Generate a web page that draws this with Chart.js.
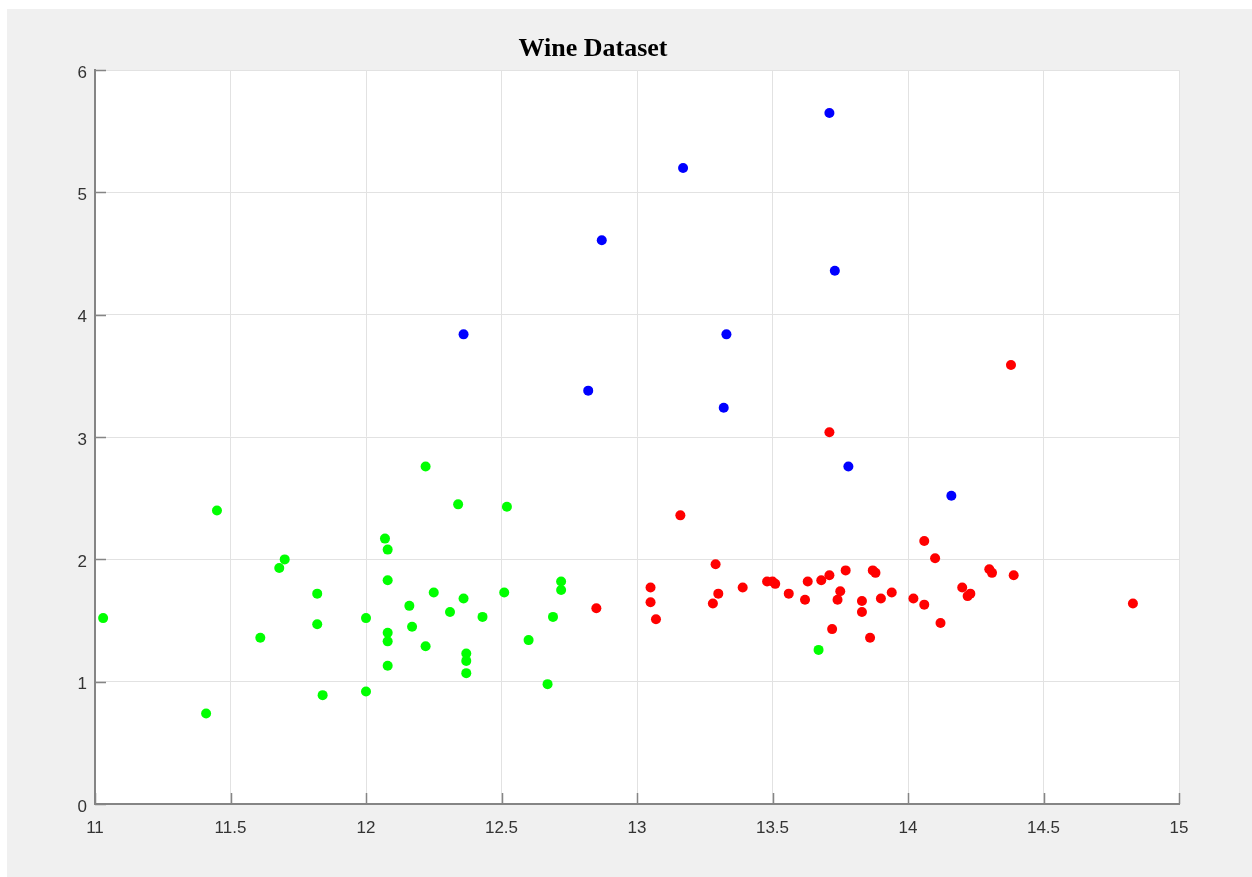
<!DOCTYPE html>
<html>
<head>
<meta charset="utf-8">
<title>Wine Dataset</title>
<script src="https://cdn.jsdelivr.net/npm/chart.js@4.4.1/dist/chart.umd.min.js"></script>
<style>
  html, body { margin: 0; padding: 0; background: #ffffff; }
  #frame {
    position: absolute; left: 7px; top: 9px;
    width: 1245px; height: 868px;
    background: #f0f0f0;
  }
  #plot { position: absolute; left: 0; top: 0; }
</style>
</head>
<body>
<div id="frame">
  <canvas id="plot" width="1220" height="868"></canvas>
</div>
<script>
// Alcohol (x) against an attribute value (y), one pair of arrays per cultivar class.
const class1X = [12.85, 13.05, 13.05, 13.07, 13.16, 13.29, 13.30, 13.28, 13.39, 13.48,
                 13.50, 13.51, 13.56, 13.63, 13.62, 13.68, 13.71, 13.77, 13.75, 13.74,
                 13.72, 13.87, 13.88, 13.83, 13.83, 13.90, 13.94, 13.86, 14.02, 14.06,
                 14.10, 14.06, 14.12, 14.20, 14.22, 14.23, 14.30, 14.31, 14.39, 14.83,
                 13.71, 14.38];
const class1Y = [1.60, 1.77, 1.65, 1.51, 2.36, 1.96, 1.72, 1.64, 1.77, 1.82,
                 1.82, 1.80, 1.72, 1.82, 1.67, 1.83, 1.87, 1.91, 1.74, 1.67,
                 1.43, 1.91, 1.89, 1.66, 1.57, 1.68, 1.73, 1.36, 1.68, 2.15,
                 2.01, 1.63, 1.48, 1.77, 1.70, 1.72, 1.92, 1.89, 1.87, 1.64,
                 3.04, 3.59];

const class2X = [11.03, 11.45, 11.41, 11.61, 11.68, 11.70, 11.82, 11.82, 11.84, 12.00,
                 12.00, 12.07, 12.08, 12.08, 12.08, 12.08, 12.08, 12.16, 12.17, 12.22,
                 12.22, 12.25, 12.34, 12.52, 12.36, 12.31, 12.43, 12.51, 12.72, 12.72,
                 12.69, 12.60, 12.67, 12.37, 12.37, 12.37, 13.67];
const class2Y = [1.52, 2.40, 0.74, 1.36, 1.93, 2.00, 1.72, 1.47, 0.89, 1.52,
                 0.92, 2.17, 2.08, 1.83, 1.40, 1.33, 1.13, 1.62, 1.45, 1.29,
                 2.76, 1.73, 2.45, 2.43, 1.68, 1.57, 1.53, 1.73, 1.82, 1.75,
                 1.53, 1.34, 0.98, 1.23, 1.17, 1.07, 1.26];

const class3X = [13.71, 13.17, 12.87, 13.73, 12.36, 13.33, 12.82, 13.32, 13.78, 14.16];
const class3Y = [5.65, 5.20, 4.61, 4.36, 3.84, 3.84, 3.38, 3.24, 2.76, 2.52];

// Axis limits and tick spacing
const xRange = [11, 15];
const xStep = 0.5;
const yRange = [0, 6];
const yStep = 1;

const AXIS_COLOR = '#858585';
const GRID_COLOR = '#e2e2e2';
const LABEL_COLOR = '#333333';
const TICK_LEN = 11;
const SANS = "'Liberation Sans', Arial, Helvetica, sans-serif";

function toPoints(xs, ys) {
  return xs.map((x, i) => ({ x: x, y: ys[i] }));
}

// Plain number labels: 11, 11.5, 12 ...
const plainLabel = (value) => String(Number(value.toFixed(2)));

// White plotting area behind the grid
const plotBackground = {
  id: 'plotBackground',
  beforeDraw(chart) {
    const { ctx, chartArea } = chart;
    ctx.save();
    ctx.fillStyle = '#ffffff';
    ctx.fillRect(chartArea.left, chartArea.top,
                 chartArea.right - chartArea.left, chartArea.bottom - chartArea.top);
    ctx.restore();
  }
};

// Tick marks pointing into the plot from the left and bottom axes
const inwardTicks = {
  id: 'inwardTicks',
  afterDatasetsDraw(chart) {
    const { ctx, chartArea, scales } = chart;
    ctx.save();
    ctx.strokeStyle = AXIS_COLOR;
    ctx.lineWidth = 1.5;
    ctx.beginPath();
    scales.x.ticks.forEach(t => {
      const px = Math.round(scales.x.getPixelForValue(t.value)) + 0.5;
      ctx.moveTo(px, chartArea.bottom);
      ctx.lineTo(px, chartArea.bottom - TICK_LEN);
    });
    scales.y.ticks.forEach(t => {
      const py = Math.round(scales.y.getPixelForValue(t.value)) + 0.5;
      ctx.moveTo(chartArea.left, py);
      ctx.lineTo(chartArea.left + TICK_LEN, py);
    });
    ctx.stroke();
    ctx.restore();
  }
};

const pointStyle = (color) => ({
  backgroundColor: color,
  borderColor: color,
  borderWidth: 0,
  pointRadius: 5,
  pointHoverRadius: 5,
  pointStyle: 'circle'
});

new Chart(document.getElementById('plot'), {
  type: 'scatter',
  data: {
    datasets: [
      Object.assign({ label: 'Class 1', data: toPoints(class1X, class1Y) }, pointStyle('#ff0000')),
      Object.assign({ label: 'Class 2', data: toPoints(class2X, class2Y) }, pointStyle('#00ff00')),
      Object.assign({ label: 'Class 3', data: toPoints(class3X, class3Y) }, pointStyle('#0000ff'))
    ]
  },
  options: {
    responsive: false,
    devicePixelRatio: 1,
    animation: false,
    events: [],
    layout: { padding: { left: 0, right: 48, top: 0, bottom: 0 } },
    plugins: {
      legend: { display: false },
      tooltip: { enabled: false },
      title: {
        display: true,
        text: 'Wine Dataset',
        color: '#000000',
        font: { family: "'Liberation Serif', 'Times New Roman', serif", size: 26, weight: 'bold' },
        padding: { top: 25, bottom: 5 }
      }
    },
    scales: {
      x: {
        type: 'linear',
        min: xRange[0],
        max: xRange[1],
        afterFit(scale) { scale.height = 73; },
        ticks: {
          stepSize: xStep,
          color: LABEL_COLOR,
          font: { family: SANS, size: 17 },
          padding: 14,
          maxRotation: 0,
          callback: plainLabel
        },
        grid: { color: GRID_COLOR, lineWidth: 1, drawTicks: false },
        border: { color: AXIS_COLOR, width: 2 }
      },
      y: {
        type: 'linear',
        min: yRange[0],
        max: yRange[1],
        afterFit(scale) { scale.width = 88; },
        ticks: {
          stepSize: yStep,
          color: LABEL_COLOR,
          font: { family: SANS, size: 17 },
          padding: 8,
          labelOffset: 3,
          callback: plainLabel
        },
        grid: { color: GRID_COLOR, lineWidth: 1, drawTicks: false },
        border: { color: AXIS_COLOR, width: 2 }
      }
    }
  },
  plugins: [plotBackground, inwardTicks]
});
</script>
</body>
</html>
